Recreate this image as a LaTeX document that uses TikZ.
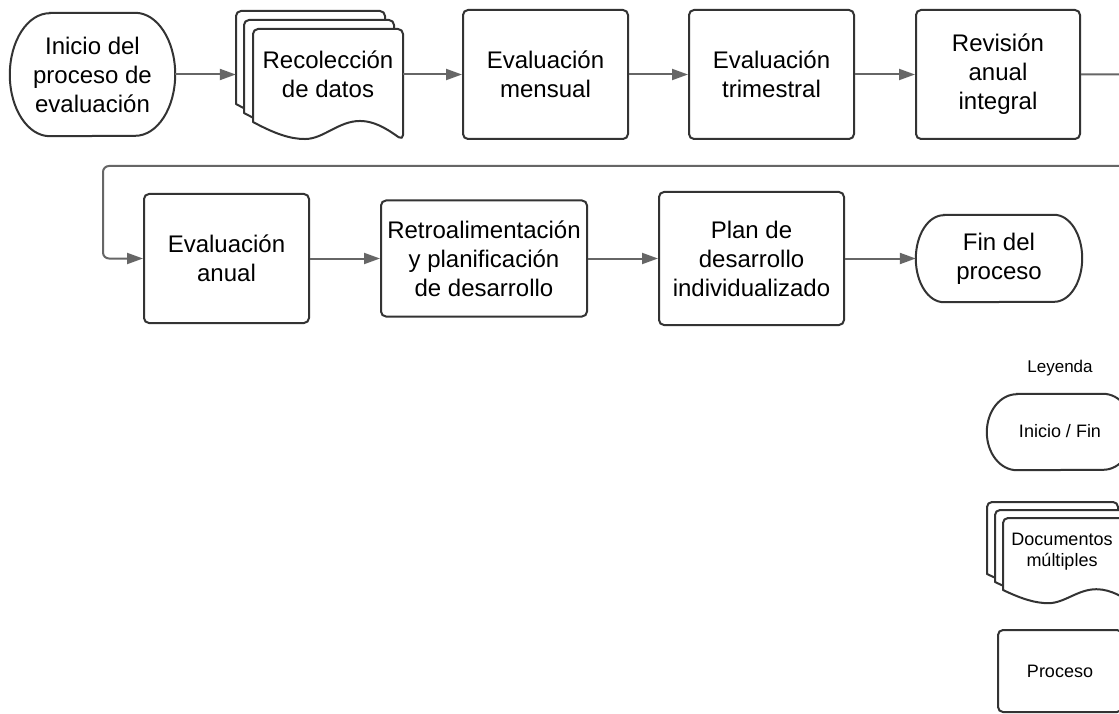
\documentclass[tikz,border=0pt]{standalone}
\usepackage{fontspec}
\setmainfont{Liberation Sans}
\usetikzlibrary{arrows.meta}
\definecolor{boxc}{RGB}{51,51,51}
\definecolor{arrc}{RGB}{102,102,102}
\newcommand\mainfont{\fontsize{24}{29}\selectfont}
\newcommand\legfont{\fontsize{18}{21}\selectfont}
% one sheet of a multiple-document shape: left, top, width, left height
\newcommand\docsheet[4]{%
  \begin{scope}[shift={(#1,#2)},xscale=#3,yscale=#4]
    \filldraw[sheetst] (0,1) [rounded corners=5pt] -- (0,0) -- (1,0) -- (1,1.194)
      [sharp corners] .. controls (0.93,1.12) and (0.83,0.989) .. (0.713,0.989)
      .. controls (0.57,0.989) and (0.47,1.183) .. (0.347,1.183)
      .. controls (0.25,1.183) and (0.15,1.13) .. (0,1) -- cycle;
  \end{scope}}
% outline of a terminator shape around node #1, end radii #2 (x) and #3 (y)
\newcommand\termoutline[3]{%
  \filldraw[termst] ([xshift=#2pt]#1.north west) -- ([xshift=-#2pt]#1.north east)
    arc[start angle=90,end angle=-90,x radius=#2pt,y radius=#3pt]
    -- ([xshift=#2pt]#1.south west)
    arc[start angle=270,end angle=90,x radius=#2pt,y radius=#3pt] -- cycle;}
\begin{document}
\begin{tikzpicture}[x=1pt,y=-1pt,
  proc/.style={draw=boxc,line width=2pt,rounded corners=5pt,fill=white,
    align=center,inner sep=0pt,font=\mainfont},
  termnode/.style={draw=none,align=center,inner sep=0pt,font=\mainfont},
  termst/.style={draw=boxc,line width=2pt,fill=white},
  sheetst/.style={draw=boxc,line width=2pt,fill=white,line join=round},
  txt/.style={align=center,inner sep=0pt,font=\mainfont},
  area/.style={draw=none,inner sep=0pt,minimum height=1pt},
  conn/.style={draw=arrc,line width=2pt,-{Triangle[length=16pt,width=11pt]},arrc},
  legproc/.style={proc,font=\legfont},
  legtxt/.style={align=center,inner sep=0pt,font=\legfont}]
\useasboundingbox (0,0) rectangle (1119,714);
\clip (0,0) rectangle (1119,714);
\fill[white] (0,0) rectangle (1119,714);

% ---- row 1
\node[termnode,minimum width=165pt,minimum height=123pt] (start) at (92.5,74.5) {};
\termoutline{start}{40}{61.5}
\node[txt] (starttxt) at (start.center) {Inicio del\\proceso de\\evaluación};

\docsheet{236}{11}{149}{93}
\docsheet{244}{20}{150}{93}
\docsheet{253}{29}{150}{93}
\node[area,minimum width=167pt] (recol) at (319.5,74.5) {};
\node[txt] (recoltxt) at (328,74) {Recolección\\de datos};

\node[proc,minimum width=165pt,minimum height=129pt] (mensual) at (545.5,74.5) {Evaluación\\mensual};
\node[proc,minimum width=165pt,minimum height=129pt] (trimestral) at (771.5,74.5) {Evaluación\\trimestral};
\node[proc,minimum width=164pt,minimum height=129pt] (revision) at (998,74.5) {Revisión\\anual\\integral};

% ---- row 2
\node[proc,minimum width=165pt,minimum height=129pt] (anual) at (226.5,258.5) {Evaluación\\anual};
\node[proc,minimum width=206pt,minimum height=116pt] (retro) at (484,258.5) {Retroalimentación\\y planificación\\de desarrollo};
\node[proc,minimum width=185pt,minimum height=133pt] (plan) at (751.5,258.5) {Plan de\\desarrollo\\individualizado};
\node[termnode,minimum width=166pt,minimum height=87pt] (fin) at (999,258.5) {};
\termoutline{fin}{28}{43.5}
\node[txt] (fintxt) at (fin.center) {Fin del\\proceso};

% ---- connectors
\draw[conn] (start.east) -- (recol.west);
\draw[conn] (recol.east) -- (mensual.west);
\draw[conn] (mensual.east) -- (trimestral.west);
\draw[conn] (trimestral.east) -- (revision.west);
\coordinate (loopa) at (1135,74.5);
\coordinate (loopb) at (1135,166);
\coordinate (loopc) at (103,166);
\coordinate (loopd) at (103,258.5);
\draw[conn,rounded corners=6pt] (revision.east) -- (loopa) -- (loopb) -- (loopc) -- (loopd) -- (anual.west);
\draw[conn] (anual.east) -- (retro.west);
\draw[conn] (retro.east) -- (plan.west);
\draw[conn] (plan.east) -- (fin.west);

% ---- legend
\node[legtxt,font=\fontsize{17}{20}\selectfont] (leyenda) at (1060,368) {Leyenda};
\node[termnode,minimum width=146pt,minimum height=76pt] (legterm) at (1060,432) {};
\termoutline{legterm}{30}{38}
\node[legtxt] (legtermtxt) at (1060,431) {Inicio / Fin};
\docsheet{987}{502}{131}{72}
\docsheet{995}{510}{131}{72}
\docsheet{1003}{518}{131}{72}
\node[legtxt] (legdoc) at (1062,552) {Documentos\\múltiples};
\node[legproc,minimum width=124pt,minimum height=82pt] (legproc) at (1060,671) {Proceso};
\end{tikzpicture}
\end{document}
